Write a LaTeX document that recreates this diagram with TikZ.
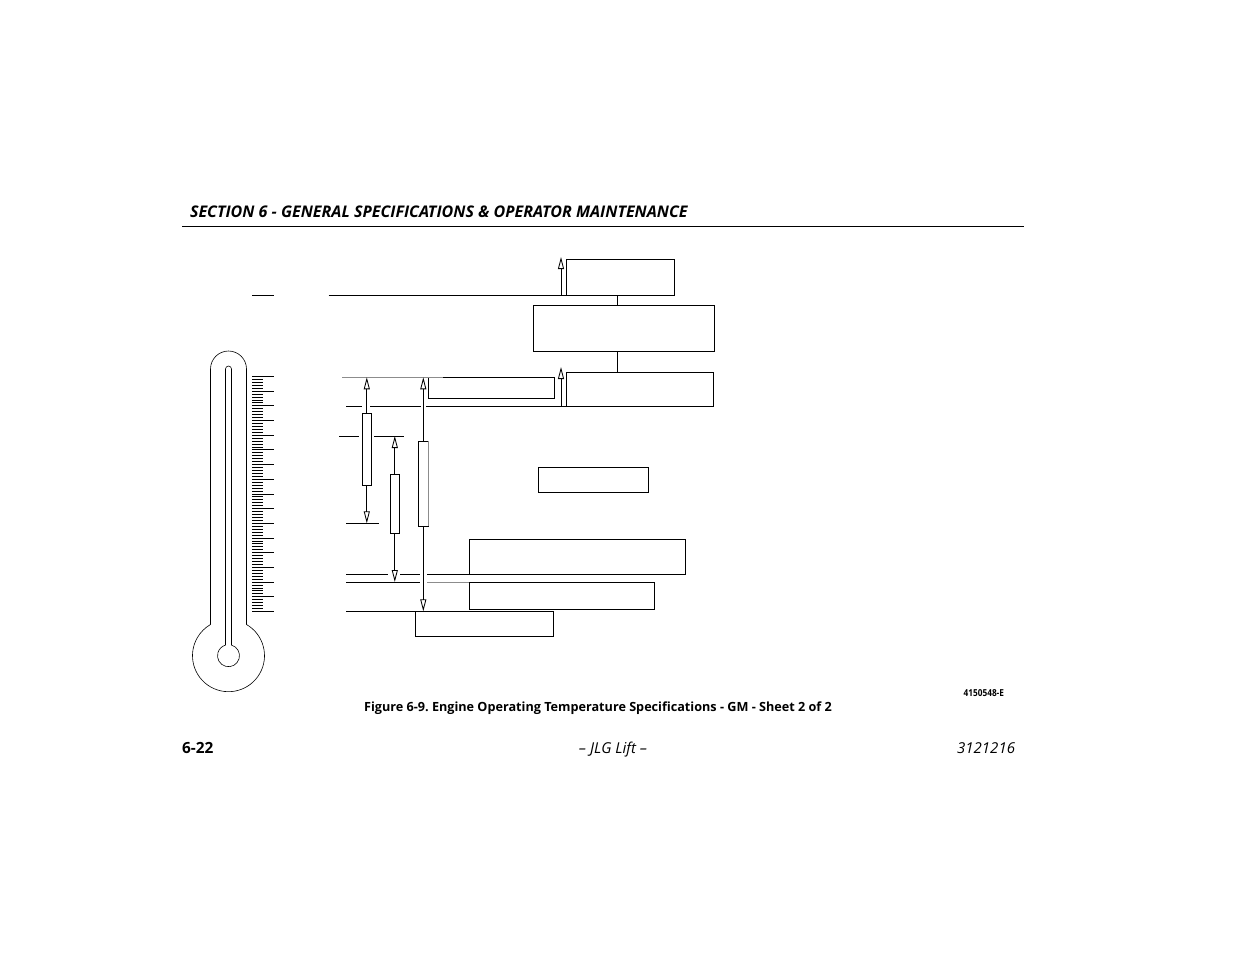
\documentclass[tikz,border=0pt]{standalone}
\usepackage{fontspec}
\setmainfont{Open Sans}
\usetikzlibrary{arrows.meta}

\begin{document}
\frenchspacing
\begin{tikzpicture}
[x=1pt,y=-1pt,line width=0.85pt,
box node/.style={rectangle,draw,inner sep=0pt,outer sep=0pt},
bar node/.style={box node,minimum width=9.5pt},
up tip/.style={-{Triangle[open,length=12pt,width=6pt]}},
gray line/.style={draw=black!45},
thin line/.style={line width=0.6pt},
txt node/.style={inner sep=0pt,outer sep=0pt}]
\useasboundingbox (0,0) rectangle (1235,954);
% header and footer
\node[txt node,anchor=base west] (title) at (190,217.6) {\fontsize{16.05}{18}\selectfont\bfseries\itshape SECTION 6 - GENERAL SPECIFICATIONS \& OPERATOR MAINTENANCE};
\coordinate (rule1) at (182,226.5);
\coordinate (rule2) at (1024,226.5);
\draw (rule1) -- (rule2);
\node[txt node,anchor=base] (caption) at (598,711) {\fontsize{12.65}{14}\selectfont\bfseries Figure 6-9. Engine Operating Temperature Specifications - GM - Sheet 2 of 2};
\node[txt node,anchor=base east] (code) at (1004,696) {\scalebox{0.86}[1]{\fontsize{9.6}{11}\selectfont\bfseries 4150548-E}};
\node[txt node,anchor=base west] (page) at (182,753) {\fontsize{15.4}{18}\selectfont\bfseries 6-22};
\node[txt node,anchor=base] (lift) at (613,753) {\fontsize{15}{18}\selectfont\itshape -- JLG Lift --};
\node[txt node,anchor=base east] (doc) at (1015,753) {\fontsize{15}{18}\selectfont\itshape 3121216};
% thermometer
\draw[thin line] (210.5,624.5) -- (210.5,369) arc[start angle=180,end angle=360,radius=18] -- (246.5,624.5)
  arc[start angle=-60,end angle=240,radius=36];
\draw[thin line] (225.5,645.1) -- (225.5,369) arc[start angle=180,end angle=360,radius=3] -- (231.5,645.1)
  arc[start angle=-74.2,end angle=254.2,radius=11];
\foreach \n in {0,...,16}
  \draw[thin line] (252,376.3+14.69*\n) -- (274,376.3+14.69*\n);
\foreach \n in {0,...,15}
  \foreach \m in {1,...,4}
    \draw[thin line] (252,376.3+14.69*\n+2.938*\m) -- (263,376.3+14.69*\n+2.938*\m);
% boxes
\node[box node,minimum width=108pt,minimum height=35.7pt] (topbox) at (620.3,277.3) {};
\node[box node,minimum width=181pt,minimum height=46pt] (midbox) at (623.8,328.3) {};
\node[box node,minimum width=147.4pt,minimum height=34pt] (lowbox) at (640,389.3) {};
\node[box node,minimum width=126.4pt,minimum height=21pt] (hotbox) at (491.5,387.8) {};
\node[box node,minimum width=110.2pt,minimum height=25.2pt] (normbox) at (593.4,479.9) {};
\node[box node,minimum width=216.2pt,minimum height=35.2pt] (widebox) at (577.4,556.9) {};
\node[box node,minimum width=185.2pt,minimum height=27.3pt] (warmbox) at (561.9,595.7) {};
\node[box node,minimum width=138.4pt,minimum height=25.2pt] (coldbox) at (484.5,623.9) {};
% bars
\node[bar node,minimum height=72.2pt] (bar1) at (366.8,449.4) {};
\node[bar node,minimum height=59pt] (bar2) at (394.8,503.8) {};
\node[bar node,minimum height=85.3pt] (bar3) at (423.3,483.7) {};
\draw[gray line] (bar3.north east) -- (bar3.south east);
% rule ends
\coordinate (a1) at (252,295);      \coordinate (a2) at (274,295);
\coordinate (b1) at (328.5,295);    \coordinate (b2) at (566.3,295);
\coordinate (c1) at (342,377.3);    \coordinate (c2) at (442.7,377.3);
\coordinate (d1) at (346.3,406.3);  \coordinate (d2) at (362,406.3);
\coordinate (d3) at (370,406.3);    \coordinate (d4) at (420.7,406.3);
\coordinate (d5) at (426,406.3);    \coordinate (d6) at (566.3,406.3);
\coordinate (e1) at (339.3,436);    \coordinate (e2) at (359,436);
\coordinate (e3) at (374,436);      \coordinate (e4) at (403.7,436);
\coordinate (f1) at (346.3,523.3);  \coordinate (f2) at (379,523.3);
\coordinate (g1) at (346,574.5);    \coordinate (g2) at (388,574.5);
\coordinate (g3) at (400,574.5);    \coordinate (g4) at (420,574.5);
\coordinate (g5) at (427,574.5);    \coordinate (g6) at (469.3,574.5);
\coordinate (h1) at (346,582);      \coordinate (h2) at (420,582);
\coordinate (h3) at (427,582);      \coordinate (h4) at (469.3,582);
\coordinate (i1) at (346,611.3);    \coordinate (i2) at (415.3,611.3);
% small arrow ends
\coordinate (j1) at (561,295);      \coordinate (j2) at (561,257);
\coordinate (k1) at (561,406.3);    \coordinate (k2) at (561,367);
% arrow ends
\coordinate (t1) at (366.8,377.3);  \coordinate (u1) at (366.8,523.3);
\coordinate (t2) at (394.8,436);    \coordinate (u2) at (394.8,582);
\coordinate (t3) at (423.3,377.3);  \coordinate (u3) at (423.3,611.3);
\path[draw]
(a1) -- (a2) (b1) -- (b2)
(d1) -- (d2) (d3) -- (d4) (d5) -- (d6)
(e1) -- (e2) (e3) -- (e4)
(f1) -- (f2)
(g1) -- (g2) (g3) -- (g4) (g5) -- (g6)
(h1) -- (h2)
(i1) -- (i2);
\path[draw,gray line] (c1) -- (c2) (h3) -- (h4);
\path[draw]
(topbox.south -| 617.3,0) -- (midbox.north -| 617.3,0)
(midbox.south -| 617.3,0) -- (lowbox.north -| 617.3,0);
\path[up tip]
(j1) edge (j2)
(k1) edge (k2)
(bar1) edge (t1)
(bar1) edge (u1)
(bar2) edge (t2)
(bar2) edge (u2)
(bar3) edge (t3)
(bar3) edge (u3);
\end{tikzpicture}
\end{document}
